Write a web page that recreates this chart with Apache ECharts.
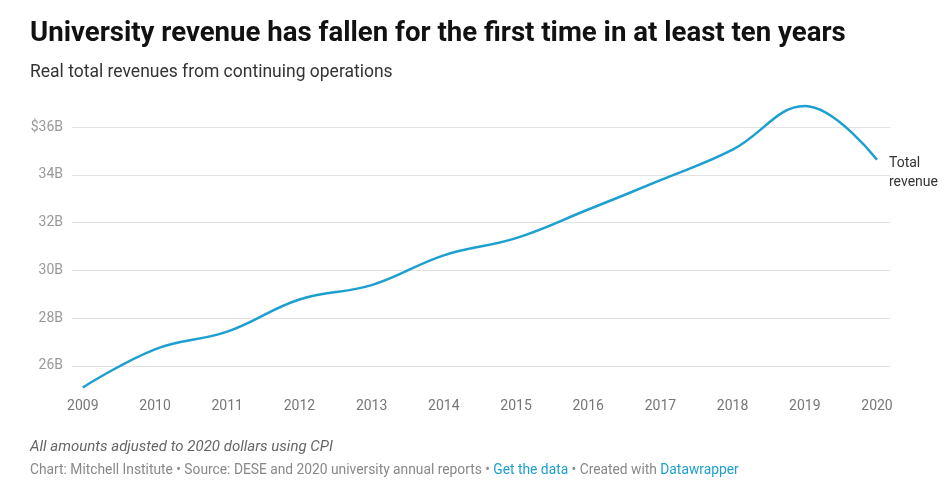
<!DOCTYPE html>
<html>
<head>
<meta charset="utf-8">
<script src="https://cdn.jsdelivr.net/npm/echarts@6/dist/echarts.min.js"></script>
<style>
html,body{margin:0;padding:0;background:#fff;}
#chart{width:952px;height:480px;}
</style>
</head>
<body>
<div id="chart"></div>
<script>
const years = [2009, 2010, 2011, 2012, 2013, 2014, 2015, 2016, 2017, 2018, 2019, 2020];
const revenue = [25.09, 26.69, 27.43, 28.78, 29.38, 30.63, 31.35, 32.55, 33.78, 35.06, 36.89, 34.64];
const yTicks = [26, 28, 30, 32, 34, 36];
const titleText = 'University revenue has fallen for the first time in at least ten years';
const subtitleText = 'Real total revenues from continuing operations';
const noteText = 'All amounts adjusted to 2020 dollars using CPI';
const seriesName = 'Total\nrevenue';

const chart = echarts.init(document.getElementById('chart'), null, {renderer: 'canvas'});
const option = {
  animation: false,
  backgroundColor: '#fff',
  title: [
    {text: titleText, left: 30, top: 20, padding: 0,
     textStyle: {fontFamily: 'Roboto, sans-serif', fontWeight: 'bold', fontSize: 27.6, color: '#111'}},
    {text: subtitleText, left: 30, top: 64, padding: 0,
     textStyle: {fontFamily: 'Roboto, sans-serif', fontWeight: 'normal', fontSize: 17.5, color: '#333'}},
    {text: noteText, left: 30, top: 440, padding: 0,
     textStyle: {fontFamily: 'Roboto, sans-serif', fontWeight: 'normal', fontStyle: 'italic', fontSize: 15, color: '#666'}},
    {text: 'Chart: Mitchell Institute • Source: DESE and 2020 university annual reports • {l|Get the data} • Created with {l|Datawrapper}',
     left: 30, top: 464, padding: 0,
     textStyle: {fontFamily: 'Roboto, sans-serif', fontWeight: 'normal', fontSize: 13.8, color: '#888',
       rich: {l: {color: '#1d9fcf', fontFamily: 'Roboto, sans-serif', fontSize: 13.8}}}}
  ],
  grid: {left: 72, right: 62, top: 103.4, bottom: 90.4},
  xAxis: {
    type: 'value', min: 2008.85, max: 2020.18,
    axisLine: {show: false}, axisTick: {show: false}, splitLine: {show: false},
    axisLabel: {customValues: years, formatter: v => String(Math.round(v)), color: '#777',
      fontFamily: 'Roboto, sans-serif', fontSize: 14, margin: 10}
  },
  yAxis: {
    type: 'value', min: 25, max: 37, interval: 1,
    axisLine: {show: false}, axisTick: {show: false},
    axisLabel: {color: '#999', fontFamily: 'Roboto, sans-serif', fontSize: 14, margin: 9,
      formatter: v => yTicks.indexOf(v) < 0 ? '' : (v === 36 ? '$' + v + 'B' : v + 'B')},
    splitLine: {lineStyle: {color: ['rgba(0,0,0,0)', '#e3e3e3'], width: 1}}
  },
  series: [{
    type: 'line', name: seriesName,
    data: years.map((y, i) => [y, revenue[i]]),
    smooth: 0.4,
    showSymbol: false, symbol: 'none',
    lineStyle: {color: '#1d9fcf', width: 2.5},
    endLabel: {show: true, formatter: seriesName, color: '#333', fontFamily: 'Roboto, sans-serif',
      fontSize: 14, lineHeight: 19, align: 'left', distance: 12, offset: [0, 13]}
  }]
};
chart.setOption(option);
</script>
</body>
</html>
